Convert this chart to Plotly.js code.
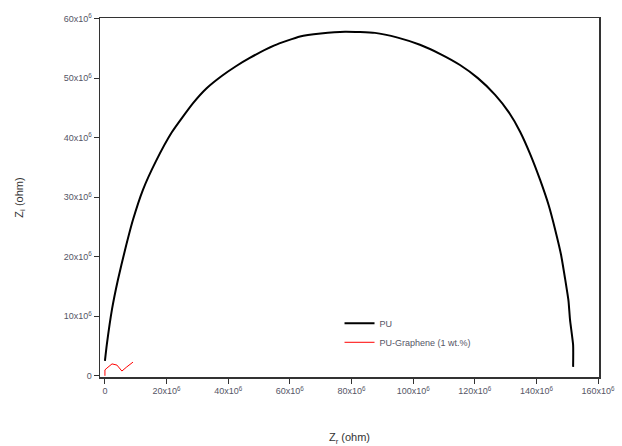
<!DOCTYPE html>
<html>
<head>
<meta charset="utf-8">
<script src="https://cdn.plot.ly/plotly-3.0.1.min.js"></script>
<style>html,body{margin:0;padding:0;background:#fff;}#chart{width:622px;height:446px;}</style>
</head>
<body>
<div id="chart"></div>
<script>
// Z' (x10^6 ohm) and Z'' (x10^6 ohm)
const puZr = [0, 0.6, 2.3, 4.2, 6.5, 9.1, 12.3, 16.6, 21.7, 28.6, 33, 38, 42.5, 47, 55, 63.3, 70, 77.9, 87.6, 95, 102.2, 109, 115.2, 121, 126.6, 131, 134.7, 138, 141.2, 144, 146.1, 148, 149.3, 150.4, 150.9, 151.9, 151.9];
const puZi = [2.5, 5.2, 11.2, 16.1, 21.1, 26.2, 31.2, 36.1, 40.9, 45.8, 48.3, 50.4, 52.0, 53.4, 55.5, 57.0, 57.5, 57.8, 57.6, 56.8, 55.6, 54.0, 52.2, 50.0, 47.2, 44.3, 41.0, 37.2, 32.9, 28.6, 24.5, 20.3, 16.3, 12.6, 9.4, 5.2, 1.5];
const pgZr = [0, 0, 0.65, 2.3, 3.9, 5.5, 7.1, 9.1];
const pgZi = [0, 1.0, 1.3, 2.0, 1.8, 0.8, 1.5, 2.3];
const xTickVals = [0, 20, 40, 60, 80, 100, 120, 140, 160];
const xTickText = ["0", "20x10<sup>6</sup>", "40x10<sup>6</sup>", "60x10<sup>6</sup>", "80x10<sup>6</sup>", "100x10<sup>6</sup>", "120x10<sup>6</sup>", "140x10<sup>6</sup>", "160x10<sup>6</sup>"];
const yTickVals = [0, 10, 20, 30, 40, 50, 60];
const yTickText = ["0", "10x10<sup>6</sup>", "20x10<sup>6</sup>", "30x10<sup>6</sup>", "40x10<sup>6</sup>", "50x10<sup>6</sup>", "60x10<sup>6</sup>"];
const names = ["PU", "PU-Graphene (1 wt.%)"];

const traces = [
  {x: puZr, y: puZi, mode: 'lines', name: names[0], line: {color: '#000', width: 2, shape: 'spline', smoothing: 0.5}},
  {x: pgZr, y: pgZi, mode: 'lines', name: names[1], line: {color: '#ff0000', width: 1}}
];
const tickFont = {family: 'Liberation Sans, Arial, sans-serif', size: 9, color: '#555566'};
const layout = {
  width: 622, height: 446,
  margin: {l: 100, r: 23, t: 18, b: 69},
  paper_bgcolor: '#fff', plot_bgcolor: '#fff',
  showlegend: true,
  legend: {x: 0.48, y: 0.19, xanchor: 'left', yanchor: 'top', bgcolor: 'rgba(0,0,0,0)',
           font: {family: 'Liberation Sans, Arial, sans-serif', size: 9, color: '#555566'},
           tracegroupgap: 0, itemwidth: 30},
  xaxis: {range: [-1.6, 160.3], tickvals: xTickVals, ticktext: xTickText, tickfont: tickFont,
          ticks: 'outside', ticklen: 5, tickcolor: '#333', showgrid: false, zeroline: false,
          showline: true, linecolor: '#333', linewidth: 1.5, mirror: true,
          title: {text: 'Z<sub>r</sub> (ohm)', font: {family: 'Liberation Sans, Arial, sans-serif', size: 11, color: '#333'}, standoff: 38}},
  yaxis: {range: [-0.2, 60.1], tickvals: yTickVals, ticktext: yTickText, tickfont: tickFont,
          ticks: 'outside', ticklen: 5, tickcolor: '#333', showgrid: false, zeroline: false,
          showline: true, linecolor: '#333', linewidth: 1.5, mirror: true,
          title: {text: 'Z<sub>i</sub> (ohm)', font: {family: 'Liberation Sans, Arial, sans-serif', size: 11, color: '#333'}, standoff: 38}}
};
Plotly.newPlot('chart', traces, layout, {displayModeBar: false, staticPlot: true});
</script>
</body>
</html>
